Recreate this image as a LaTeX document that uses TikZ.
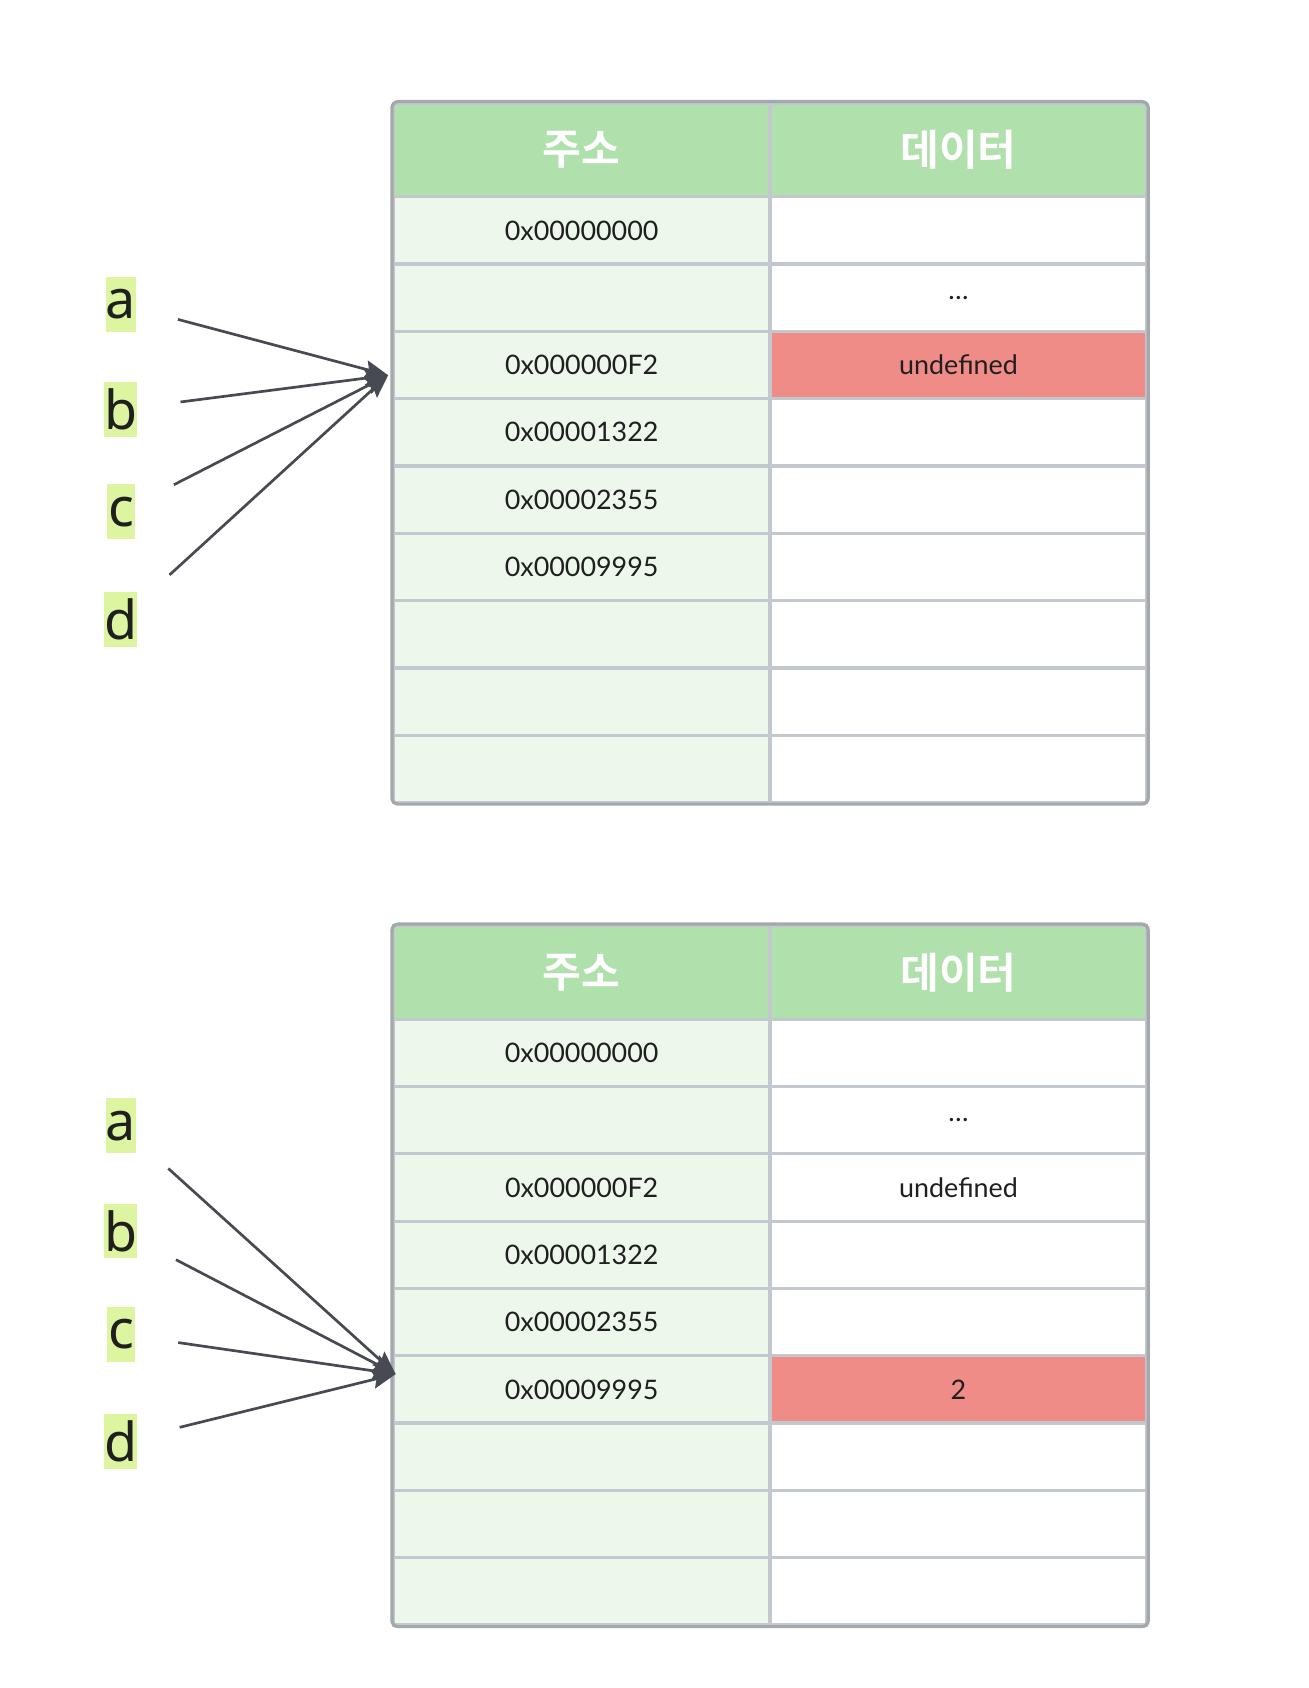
\documentclass[tikz,border=0pt]{standalone}
\usepackage{fontspec}
\usetikzlibrary{arrows.meta}
\newfontfamily\latofam{Lato}
\newfontfamily\notofam{Noto Sans}
\newfontfamily\krfam{Noto Sans CJK KR}[BoldFont={Noto Sans CJK KR Bold}]
\definecolor{headgreen}{HTML}{B0E0AC}
\definecolor{addrgreen}{HTML}{EDF7EC}
\definecolor{hotred}{HTML}{EF8C87}
\definecolor{gridgray}{HTML}{C3C8CF}
\definecolor{framegray}{HTML}{A4A7AC}
\definecolor{ptrgray}{HTML}{474A52}
\definecolor{varlime}{HTML}{DDF5A1}
\definecolor{inkblack}{HTML}{1F1F1F}
\tikzset{
  cell/.style={draw=gridgray,line width=1.8pt,minimum width=210pt,minimum height=37.56pt,
    inner sep=0pt,text=inkblack,font=\latofam\fontsize{15}{17}\selectfont},
  addr/.style={cell,fill=addrgreen},
  val/.style={cell,fill=white},
  hot/.style={cell,fill=hotred},
  head/.style={cell,fill=headgreen,minimum height=52.2pt,text=white,
    font=\krfam\bfseries\fontsize{23.5}{26}\selectfont},
  frame/.style={draw=framegray,line width=1.8pt,rounded corners=3.5pt},
  var/.style={fill=varlime,inner sep=0pt,minimum width=16pt,minimum height=30.5pt,
    text=inkblack,font=\notofam\fontsize{30}{34}\selectfont},
  ptr/.style={draw=ptrgray,line width=1.5pt,shorten <=24pt,
    -{Stealth[length=13pt,width=10pt,inset=2pt]}}
}
\begin{document}
\begin{tikzpicture}[x=0.6pt,y=-0.6pt]
  \useasboundingbox (0,0) rectangle (1216.6,1570);
  % before
  \begin{scope}[shift={(0,0)}]
    \node[head] (Th1) at (541,139.5) {주소};
    \node[head] (Th2) at (891.5,139.5) {데이터};
    \foreach \st/\dt/\ad [count=\i] in {val/{}/0x00000000, val/{…}/{}, hot/undefined/0x000000F2,
        val/{}/0x00001322, val/{}/0x00002355, val/{}/0x00009995, val/{}/{}, val/{}/{}, val/{}/{}}
    {
      \node[addr] (Ta\i) at (541,{183+62.6*(\i-0.5)}) {\ad};
      \node[\st] (Td\i) at (891.5,{183+62.6*(\i-0.5)}) {\dt};
    }
    \draw[frame] (Th1.north west) rectangle (Td9.south east);
    \node[var] (Tva) at (112.5,283) {a};
    \node[var] (Tvb) at (112.5,381) {b};
    \node[var] (Tvc) at (112.5,476) {c};
    \node[var] (Tvd) at (112.5,576) {d};
    \coordinate (Tptr) at (361,349);
    \foreach \v in {a,b,c,d}
      \draw[ptr] (Tv\v) -- (Tptr);
  \end{scope}
  % after
  \begin{scope}[shift={(0,765)}]
    \node[head] (Bh1) at (541,139.5) {주소};
    \node[head] (Bh2) at (891.5,139.5) {데이터};
    \foreach \st/\dt/\ad [count=\i] in {val/{}/0x00000000, val/{…}/{}, val/undefined/0x000000F2,
        val/{}/0x00001322, val/{}/0x00002355, hot/2/0x00009995, val/{}/{}, val/{}/{}, val/{}/{}}
    {
      \node[addr] (Ba\i) at (541,{183+62.6*(\i-0.5)}) {\ad};
      \node[\st] (Bd\i) at (891.5,{183+62.6*(\i-0.5)}) {\dt};
    }
    \draw[frame] (Bh1.north west) rectangle (Bd9.south east);
    \node[var] (Bva) at (112.5,282) {a};
    \node[var] (Bvb) at (112.5,380) {b};
    \node[var] (Bvc) at (112.5,476) {c};
    \node[var] (Bvd) at (112.5,576) {d};
    \coordinate (Bptr) at (368,513);
    \foreach \v in {a,b,c,d}
      \draw[ptr] (Bv\v) -- (Bptr);
  \end{scope}
\end{tikzpicture}
\end{document}
